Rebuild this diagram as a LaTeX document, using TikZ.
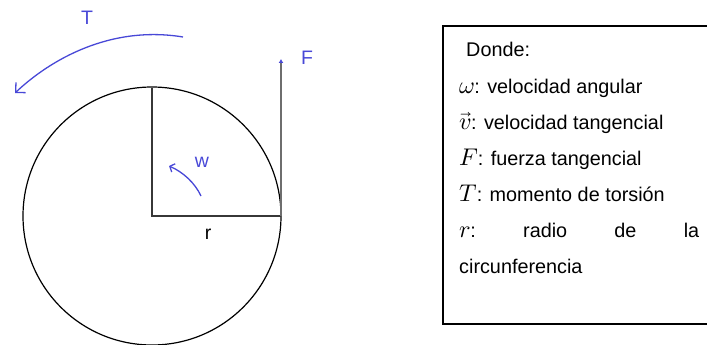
\documentclass[tikz,border=0pt]{standalone}
\usepackage{fontspec}
\usepackage{unicode-math}
\setmainfont{Liberation Sans}
\setmathfont{Latin Modern Math}[Scale=1.22]
\usetikzlibrary{arrows.meta}
\definecolor{lblue}{RGB}{72,72,215}
\definecolor{lgray}{RGB}{110,110,110}
\definecolor{dgray}{RGB}{55,55,55}
\tikzset{
  lbl/.style={font=\fontsize{19.5}{19.5}\selectfont, text=lblue, inner sep=0pt},
  legend/.style={font=\fontsize{19.8}{19.8}\selectfont, inner sep=0pt, anchor=base west},
  barrow/.style={draw=lblue, line width=1.3pt, -{Straight Barb[length=7pt,width=14pt]}},
}
\begin{document}
\begin{tikzpicture}[x=1pt,y=-1pt]
\useasboundingbox (0,0) rectangle (707,345);
% circle and radii
\coordinate (O) at (152,216);
\coordinate (top) at (152,88);
\coordinate (rt) at (281,216);
\draw[line width=1.2pt] (O) circle (129);
\draw[dgray, line width=1.4pt] (top) -- (O) -- (rt);
% force F
\coordinate (Fb) at (281,216);
\coordinate (Ft) at (281,59);
\draw[lgray, line width=1.6pt, -{Latex[length=4pt,width=5pt,color=lblue]}] (Fb) -- (Ft);
\node[lbl] (F) at (307,58) {F};
% torque T
\coordinate (Ts) at (183,37);
\coordinate (Te) at (15,93);
\draw[barrow] (Ts) .. controls (110,25) and (50,60) .. (Te);
\node[lbl] (T) at (87,18) {T};
% omega w
\coordinate (ws) at (201,196);
\coordinate (we) at (169,166);
\draw[draw=lblue, line width=1.3pt, -{Straight Barb[length=4pt,width=9pt]}] (ws) .. controls (195,183) and (183,172) .. (we);
\node[lbl] (w) at (202,162) {w};
% r label
\node[lbl, text=black] (r) at (208,234) {r};
% legend box
\draw[line width=1.5pt] (443,26) rectangle (712,324);
\node[legend] (l0) at (466,57) {Donde:};
\node[legend] (l1) at (459,93) {$\omega$: velocidad angular};
\node[legend] (l2) at (459,129) {$\vec{v}$: velocidad tangencial};
\node[legend] (l3) at (459,165) {$F$: fuerza tangencial};
\node[legend] (l4) at (459,201) {$T$: momento de torsión};
\node[legend, text width=240pt] (l5) at (459,237) {$r$:\hfill radio\hfill de\hfill la};
\node[legend] (l6) at (459,273) {circunferencia};
\end{tikzpicture}
\end{document}
